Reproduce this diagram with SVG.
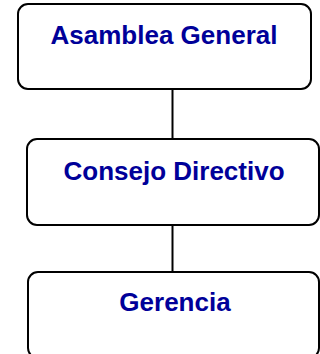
<svg xmlns="http://www.w3.org/2000/svg" width="320" height="354" viewBox="0 0 320 354">
<style>
.box{fill:#fff;stroke:#000;stroke-width:2}
.lbl{font-family:"Liberation Sans",Arial,sans-serif;font-weight:bold;font-size:26px;fill:#000099;text-anchor:middle}
.con{stroke:#000;stroke-width:2;fill:none}
</style>
<rect width="320" height="354" fill="#fff"/>
<g id="connectors">
<line class="con" x1="172.5" y1="89" x2="172.5" y2="139"/>
<line class="con" x1="172.5" y1="225" x2="172.5" y2="272"/>
</g>
<g id="asamblea">
<rect class="box" x="18" y="4" width="293" height="85" rx="10"/>
<text class="lbl" x="164" y="44">Asamblea General</text>
</g>
<g id="consejo">
<rect class="box" x="27" y="139" width="292" height="86" rx="10"/>
<text class="lbl" x="174" y="180">Consejo Directivo</text>
</g>
<g id="gerencia">
<rect class="box" x="28" y="272" width="291" height="86" rx="10"/>
<text class="lbl" x="175" y="311">Gerencia</text>
</g>
</svg>
